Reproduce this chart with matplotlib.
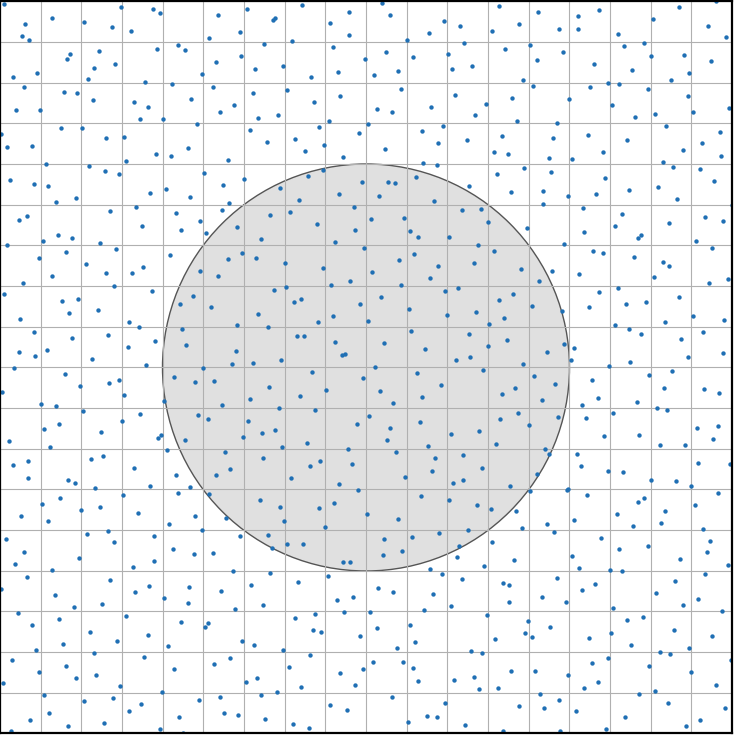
import numpy as np
import matplotlib
matplotlib.use("Agg")
import matplotlib.pyplot as plt
from matplotlib.patches import Circle

# Sample points (x, y), in the plot's own units (y grows downward)
pts = [
    (5,4), (122,7), (154,9), (161,13), (219,15), (53,18), (26,24), (85,22), (113,27), (132,31),
    (241,32), (23,36), (30,40), (210,38), (179,45), (186,50), (158,49), (100,51), (71,54), (68,59),
    (217,62), (242,56), (116,64), (95,68), (38,73), (14,77), (89,79), (203,74), (146,82), (173,84),
    (25,87), (214,87), (65,92), (78,93), (94,100), (192,99), (135,102), (149,107), (235,105), (17,110),
    (41,110), (221,112), (141,119), (164,119), (198,124), (62,128), (83,128), (2,134), (107,138), (125,137),
    (8,147), (33,146), (189,148), (157,154), (172,156), (229,160), (127,161), (47,164), (90,166), (106,171),
    (120,174), (205,173), (11,180), (35,184), (49,186), (224,185), (245,179), (151,193), (167,189), (77,198),
    (191,197), (57,202), (230,203), (137,207), (111,211), (177,213), (223,210), (20,220), (28,216), (201,221),
    (143,226), (238,227), (182,230), (207,233), (59,235), (73,238), (44,241), (101,243), (8,245),
    # upper middle
    (248,9), (303,5), (383,3), (350,12), (391,15), (276,18), (274,20), (331,23), (445,21), (461,26),
    (430,33), (350,35), (408,40), (293,41), (265,44), (465,43), (334,47), (387,52), (449,54), (414,57),
    (366,59), (256,69), (284,66), (453,69), (473,66), (339,72), (399,71), (375,75), (312,77), (402,89),
    (254,93), (288,90), (341,96), (456,95), (315,102), (432,107), (487,104), (378,109), (393,112), (259,118),
    (279,115), (476,115), (330,121), (320,127), (369,124), (251,130), (423,131), (444,126), (360,133), (296,139),
    (268,142), (325,145), (439,143), (468,140), (306,151), (386,149), (344,157), (424,163), (438,165), (324,170),
    (309,176), (417,177), (363,182), (389,182), (396,183), (281,188), (470,186), (340,194), (380,196), (300,200),
    (435,201), (355,207), (271,215), (291,212), (463,210), (482,209), (372,219), (405,218), (318,224), (489,222),
    (356,230), (411,231), (262,239), (419,237), (450,237), (336,242), (479,245),
    # upper right
    (500,6), (539,12), (579,16), (600,10), (680,7), (717,1), (493,31), (520,24), (560,29), (579,29),
    (654,19), (709,26), (727,37), (619,34), (531,45), (506,49), (564,52), (625,46), (645,43), (538,60),
    (595,64), (652,56), (685,55), (712,61), (633,70), (690,73), (524,80), (534,86), (609,83), (620,84),
    (672,80), (591,87), (649,89), (513,98), (570,99), (689,96), (613,105), (730,108), (636,117), (656,114),
    (694,112), (518,121), (558,123), (667,126), (503,136), (554,138), (589,135), (628,140), (721,132), (703,143),
    (495,152), (509,154), (550,158), (573,159), (604,152), (684,150), (722,156), (664,162), (674,167), (701,169),
    (525,168), (498,174), (552,172), (606,178), (715,181), (512,192), (544,191), (569,196), (597,194), (630,190),
    (659,187), (678,199), (544,204), (584,208), (623,214), (733,205), (528,228), (585,232), (616,226), (670,223),
    (706,217), (724,221), (639,238), (642,235), (697,241), (565,244),
    # middle left
    (117,249), (67,252), (40,258), (171,255), (87,264), (107,273), (133,273), (144,267), (53,276), (24,283),
    (115,286), (201,271), (229,259), (243,253), (219,276), (5,294), (153,291), (63,301), (79,299), (194,296),
    (70,313), (99,310), (181,304), (212,307), (21,319), (130,322), (140,327), (238,325), (35,332), (109,335),
    (183,329), (73,338), (156,341), (187,345), (20,352), (36,356), (48,350), (129,347), (237,351), (93,359),
    (233,364), (147,365), (15,368), (204,368), (66,374), (175,377), (196,382), (215,381), (120,380), (110,383),
    (81,386), (3,392), (125,395), (165,401), (42,404), (57,406), (223,405), (84,411), (141,414), (199,415),
    (209,419), (123,421), (60,424), (45,429), (102,432), (162,435), (159,438), (186,440), (244,437), (10,441),
    (51,447), (168,450), (226,452), (92,459), (104,456), (14,465), (29,461), (135,468), (231,469), (29,478),
    (177,475), (217,475), (69,480), (76,483), (151,486), (96,488), (191,487),
    # centre
    (257,258), (286,263), (324,268), (365,248), (400,260), (415,254), (439,266), (475,263), (373,272), (431,278),
    (351,281), (332,285), (402,285), (275,290), (287,287), (446,291), (459,288), (295,302), (302,299), (361,304),
    (382,297), (410,309), (259,314), (334,316), (448,315), (477,312), (369,321), (319,322), (490,324), (269,327),
    (412,331), (298,336), (305,336), (470,334), (336,342), (385,343), (489,346), (426,349), (343,355), (346,354),
    (254,363), (282,360), (457,360), (471,357), (376,367), (313,372), (418,373), (484,370), (364,378), (270,387),
    (327,390), (381,391), (442,385), (251,399), (301,396), (423,397), (394,403), (280,408), (316,410), (249,421),
    (370,416), (358,424), (391,428), (421,422), (263,433), (276,430), (388,440), (452,434), (480,431), (308,443),
    (283,447), (349,449), (429,446), (397,452), (264,458), (436,458), (464,455), (321,461), (353,464), (311,466),
    (483,468), (433,471), (292,478), (406,477), (454,483), (464,480), (340,484), (359,490),
    # middle right
    (495,251), (594,251), (604,253), (635,257), (664,262), (670,266), (713,248), (522,269), (553,271), (580,274),
    (655,277), (710,283), (729,279), (540,281), (514,294), (500,300), (533,306), (600,292), (619,288), (627,304),
    (647,302), (680,297), (590,307), (563,311), (694,316), (725,320), (505,318), (666,322), (616,325), (630,329),
    (642,334), (704,332), (682,339), (508,340), (565,344), (575,348), (548,352), (724,353), (689,357), (572,360),
    (524,364), (631,362), (610,366), (673,371), (650,375), (535,376), (593,380), (556,384), (516,388), (665,388),
    (705,389), (720,393), (503,394), (543,400), (638,402), (599,398), (583,405), (658,408), (668,410), (614,413),
    (519,413), (559,417), (501,419), (587,418), (530,425), (698,428), (719,426), (605,436), (640,435), (661,445),
    (686,445), (714,439), (497,444), (546,449), (550,454), (578,454), (582,466), (609,471), (624,472), (699,463),
    (731,464), (538,474), (511,486), (569,489), (652,480), (677,481), (692,486),
    # lower left
    (124,495), (179,493), (210,494), (43,504), (61,498), (22,516), (49,521), (82,510), (101,507), (139,513),
    (170,524), (196,516), (227,518), (7,539), (25,552), (16,564), (88,534), (109,531), (115,542), (155,536),
    (203,530), (241,536), (80,558), (53,570), (134,567), (155,561), (174,549), (195,554), (214,553), (234,571),
    (2,589), (28,577), (56,595), (75,607), (111,580), (103,604), (136,592), (150,586), (165,598), (190,587),
    (189,603), (222,591), (236,609), (19,613), (33,625), (60,619), (127,616), (91,632), (64,644), (118,641),
    (149,635), (182,622), (206,627), (209,623), (243,641), (37,650), (169,646), (13,660), (95,653), (145,657),
    (231,658), (40,672), (67,666), (175,669), (215,664), (4,683), (97,675), (77,678), (121,686), (163,692),
    (45,695), (200,700), (221,697), (85,701), (114,698), (142,704), (130,711), (50,713), (225,713), (239,715),
    (31,720), (180,717), (105,723), (69,726), (161,729), (12,731), (184,733),
    # lower middle
    (261,500), (281,507), (335,503), (320,508), (285,521), (368,514), (399,519), (422,496), (450,500), (478,505),
    (326,527), (269,535), (273,548), (288,544), (304,544), (385,539), (413,537), (440,533), (469,530), (403,551),
    (384,555), (344,562), (351,562), (460,546), (458,557), (485,566), (431,569), (443,574), (463,579), (271,573),
    (252,585), (299,582), (329,576), (379,588), (394,592), (434,594), (338,600), (354,597), (264,605), (452,606),
    (425,610), (345,612), (371,612), (296,618), (316,614), (488,615), (411,625), (314,630), (322,632), (378,628),
    (361,636), (255,645), (416,642), (398,648), (284,650), (311,655), (472,651), (483,653), (374,662), (404,662),
    (414,668), (290,667), (341,673), (364,669), (247,682), (258,678), (419,681), (455,680), (475,677), (480,689),
    (302,687), (356,685), (278,692), (262,695), (393,697), (446,703), (331,705), (348,710), (266,719), (294,724),
    (310,728), (409,722), (428,716), (438,717), (466,725), (390,734),
    # lower right
    (492,509), (517,511), (531,491), (568,490), (588,495), (639,502), (645,498), (719,493), (696,505), (666,511),
    (618,514), (662,523), (634,526), (575,520), (548,524), (523,528), (555,532), (704,529), (493,542), (602,538),
    (649,546), (620,549), (711,541), (708,552), (515,560), (573,556), (681,559), (729,565), (580,568), (611,570),
    (623,571), (504,583), (510,585), (558,578), (596,584), (676,581), (706,574), (583,590), (657,593), (543,597),
    (699,599), (510,602), (567,602), (684,605), (614,608), (723,611), (529,621), (551,627), (628,620), (644,617),
    (496,639), (526,633), (533,637), (590,638), (612,633), (675,630), (713,636), (632,645), (690,648), (661,652),
    (671,654), (609,658), (732,660), (512,671), (536,671), (593,663), (650,666), (692,672), (569,675), (599,682),
    (499,688), (585,688), (656,691), (717,685), (541,694), (640,694), (560,700), (669,703), (520,706), (545,708),
    (577,711), (726,708), (626,717), (701,720), (687,726), (504,731), (561,731), (607,729),
]
x = [p[0] for p in pts]
y = [p[1] for p in pts]

# plot extent and the reference circle
x_min, x_max = 0.5, 732.5
y_min, y_max = 1.5, 733.5
center = (366.5, 367.5)
radius = 203.5

fig = plt.figure(figsize=(7.35, 7.36), dpi=100)
ax = fig.add_axes([0.0, 0.0034, 0.9959, 0.9946])

ax.add_patch(Circle(center, radius, facecolor="#e0e0e0", edgecolor="#555555",
                    linewidth=1.0, zorder=0.5))
ax.scatter(x, y, s=10, color="#1f6fb4", linewidths=0, zorder=3)

ax.set_xlim(x_min, x_max)
ax.set_ylim(y_max, y_min)
ax.set_xticks(np.linspace(x_min, x_max, 19))
ax.set_yticks(np.linspace(y_min, y_max, 19))
ax.tick_params(length=0, labelbottom=False, labelleft=False)
ax.grid(True, color="#b0b0b0", linewidth=0.8, zorder=1)
ax.set_axisbelow(False)
for s in ax.spines.values():
    s.set_linewidth(1.6)
    s.set_color("black")
    s.set_zorder(4)

fig.savefig("out.png", dpi=100)
